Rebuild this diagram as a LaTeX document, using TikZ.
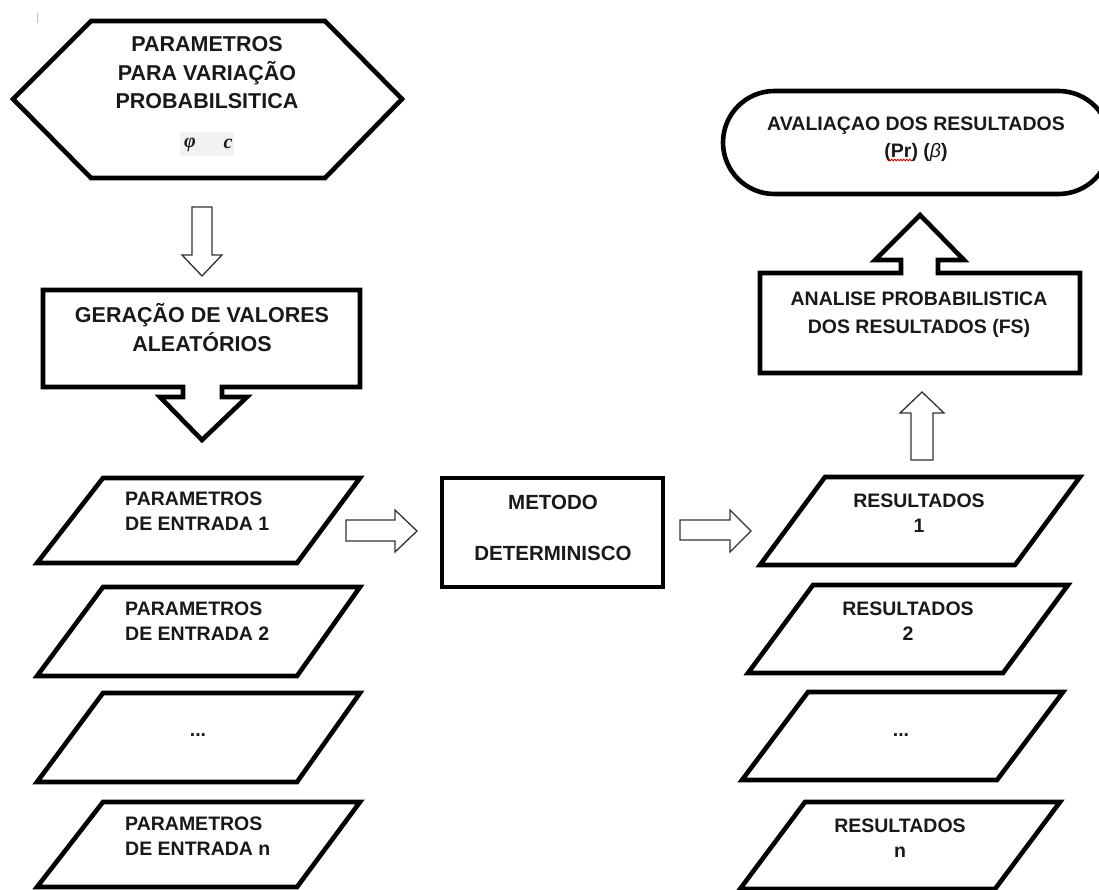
\documentclass[tikz,border=0pt]{standalone}
\usepackage{fontspec}
\setmainfont{Liberation Sans}
\newfontfamily\serifgr{Liberation Serif}
\usetikzlibrary{decorations.pathmorphing}
\tikzset{
  shapeline/.style={line width=4.6pt, line join=miter, draw=black},
  harrow/.style={line width=1.3pt, draw=black!80, fill=white, line join=miter},
  lbl/.style={inner sep=0pt, align=center, text=black!90,
    font=\bfseries\fontsize{19.5}{27}\selectfont},
  biglbl/.style={lbl, font=\bfseries\fontsize{21.5}{28.5}\selectfont},
  leftlbl/.style={lbl, align=left, anchor=west, font=\bfseries\fontsize{19.5}{25}\selectfont},
  reslbl/.style={lbl, font=\bfseries\fontsize{19.5}{25}\selectfont},
  greek/.style={inner sep=0pt, text=black!90, font=\serifgr\bfseries\itshape\fontsize{20}{20}\selectfont},
}
\begin{document}
\begin{tikzpicture}[x=1pt,y=-1pt]
\clip (0,0) rectangle (1099,889);
\fill[white] (0,0) rectangle (1099,889);
% small gray tick
\draw[black!25, line width=1pt] (37,13) -- (37,23);

% hexagon
\draw[shapeline] (91,21) -- (325,21) -- (402,99) -- (325,178) -- (91,178) -- (13,99) -- cycle;
\node[biglbl] (hex) at (207,73) {PARAMETROS\\PARA VARIAÇÃO\\PROBABILSITICA};
\fill[black!5] (180,132) rectangle (234,156);
\node[greek] (phi) at (190,145) {φ};
\node[greek] (cc) at (228,144) {c};

% hollow arrow down
\draw[harrow] (192,207) -- (212,207) -- (212,255) -- (222,255) -- (202,276) -- (182,255) -- (192,255) -- cycle;

% generation callout
\draw[shapeline] (43,290) -- (360,290) -- (360,387) -- (222,387) -- (222,397) -- (247,397)
  -- (202,440) -- (160,397) -- (183,397) -- (183,387) -- (43,387) -- cycle;
\node[biglbl, font=\bfseries\fontsize{21.5}{29}\selectfont] (ger) at (202,328) {GERAÇÃO DE VALORES\\ALEATÓRIOS};

% left parallelograms
\draw[shapeline] (103,478) -- (360,478) -- (297,563) -- (37,563) -- cycle;
\node[leftlbl] (p1) at (125,511) {PARAMETROS\\DE ENTRADA 1};
\draw[shapeline] (103,587) -- (360,587) -- (297,676) -- (37,676) -- cycle;
\node[leftlbl] (p2) at (125,621) {PARAMETROS\\DE ENTRADA 2};
\draw[shapeline] (103,693) -- (360,693) -- (297,782) -- (37,782) -- cycle;
\node[lbl, anchor=base] (p3) at (198,736) {...};
\draw[shapeline] (103,802) -- (360,802) -- (297,887) -- (37,887) -- cycle;
\node[leftlbl] (p4) at (125,836) {PARAMETROS\\DE ENTRADA n};

% arrow to method
\draw[harrow] (346,520) -- (395,520) -- (395,510) -- (417,531) -- (395,552) -- (395,541) -- (346,541) -- cycle;

% method box
\draw[shapeline] (442,478) rectangle (663,587);
\node[lbl, font=\bfseries\fontsize{20.5}{51}\selectfont] (met) at (553,528) {METODO\\DETERMINISCO};

% arrow to results
\draw[harrow] (680,520) -- (730,520) -- (730,510) -- (751,531) -- (730,552) -- (730,540) -- (680,540) -- cycle;

% right parallelograms
\draw[shapeline] (825,477) -- (1080,477) -- (1015,565) -- (760,565) -- cycle;
\node[reslbl] (r1) at (919,513) {RESULTADOS\\1};
\draw[shapeline] (813,585) -- (1068,585) -- (1003,673) -- (748,673) -- cycle;
\node[reslbl] (r2) at (908,621) {RESULTADOS\\2};
\draw[shapeline] (808,692) -- (1063,692) -- (997,780) -- (742,780) -- cycle;
\node[lbl, anchor=base] (r3) at (901,736) {...};
\draw[shapeline] (805,802) -- (1060,802) -- (995,889) -- (740,889) -- cycle;
\node[reslbl] (r4) at (900,838) {RESULTADOS\\n};

% hollow arrow up
\draw[harrow] (911,460) -- (911,413) -- (900,413) -- (922,392) -- (944,413) -- (933,413) -- (933,460) -- cycle;

% analysis callout
\draw[shapeline] (760,273) -- (901,273) -- (901,260) -- (875,260) -- (920,215) -- (964,260)
  -- (938,260) -- (938,273) -- (1080,273) -- (1080,373) -- (760,373) -- cycle;
\node[lbl, font=\bfseries\fontsize{19.5}{28}\selectfont] (ana) at (919,315) {ANALISE PROBABILISTICA\\DOS RESULTADOS (FS)};

% terminal
\draw[shapeline, rounded corners=51.5pt] (723,91) rectangle (1110,194);
\node[lbl] (ava) at (916,139) {AVALIAÇAO DOS RESULTADOS\\(Pr) ({\mdseries\itshape β})};
\draw[red!85!black, line width=0.8pt, decorate, decoration={zigzag, amplitude=0.9pt, segment length=3pt}] (888,160) -- (912,160);
\end{tikzpicture}
\end{document}
